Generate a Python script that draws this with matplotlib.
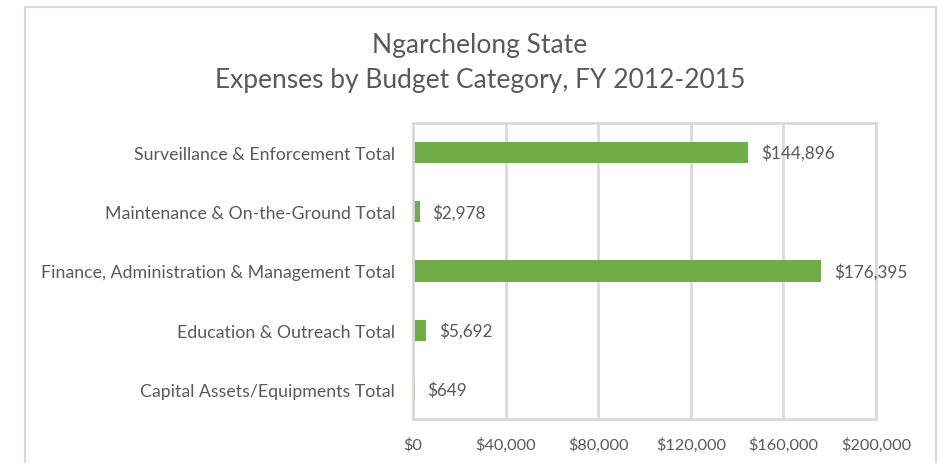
import matplotlib.pyplot as plt
from matplotlib.patches import Rectangle
from matplotlib.ticker import FuncFormatter

categories = ["Surveillance & Enforcement Total",
              "Maintenance & On-the-Ground Total",
              "Finance, Administration & Management Total",
              "Education & Outreach Total",
              "Capital Assets/Equipments Total"]
values = [144896, 2978, 176395, 5692, 649]
xticks = [0, 40000, 80000, 120000, 160000, 200000]

plt.rcParams['font.family'] = ['Lato', 'DejaVu Sans']
txt = '#595959'
grid = '#d9d9d9'
green = '#70ad47'

W, H = 952, 464
fig = plt.figure(figsize=(W / 100, H / 100), dpi=100)
fig.patches.append(Rectangle((25 / W, -0.1), (936 - 25) / W, 1.1 - 8 / H,
                             transform=fig.transFigure, fill=False,
                             edgecolor=grid, linewidth=1.5))

ax = fig.add_axes([413 / W, 1 - 420 / H, (876 - 413) / W, (420 - 124) / H])
ypos = list(range(len(categories)))[::-1]
ax.barh(ypos, values, height=0.36, color=green)
for y, v in zip(ypos, values):
    ax.text(v + 5500, y, f"${v:,}", va='center', ha='left', fontsize=12.3, color=txt)

ax.set_xlim(0, 200000)
ax.set_ylim(-0.5, len(categories) - 0.5)
ax.set_xticks(xticks)
ax.xaxis.set_major_formatter(FuncFormatter(lambda x, p: f"${int(x):,}"))
ax.set_yticks(ypos)
ax.set_yticklabels(categories)
ax.tick_params(axis='both', length=0, labelcolor=txt)
ax.tick_params(axis='x', pad=13, labelsize=11.7)
ax.tick_params(axis='y', pad=13, labelsize=12.8)
ax.grid(axis='x', color=grid, linewidth=2)
ax.set_axisbelow(True)
for s in ax.spines.values():
    s.set_color(grid)
    s.set_linewidth(2)

fig.text(480 / W, 1 - 45 / H, "Ngarchelong State", ha='center', va='center',
         fontsize=19, color=txt)
fig.text(480 / W, 1 - 81 / H, "Expenses by Budget Category, FY 2012-2015",
         ha='center', va='center', fontsize=19, color=txt)

fig.savefig("out.png", dpi=100)
